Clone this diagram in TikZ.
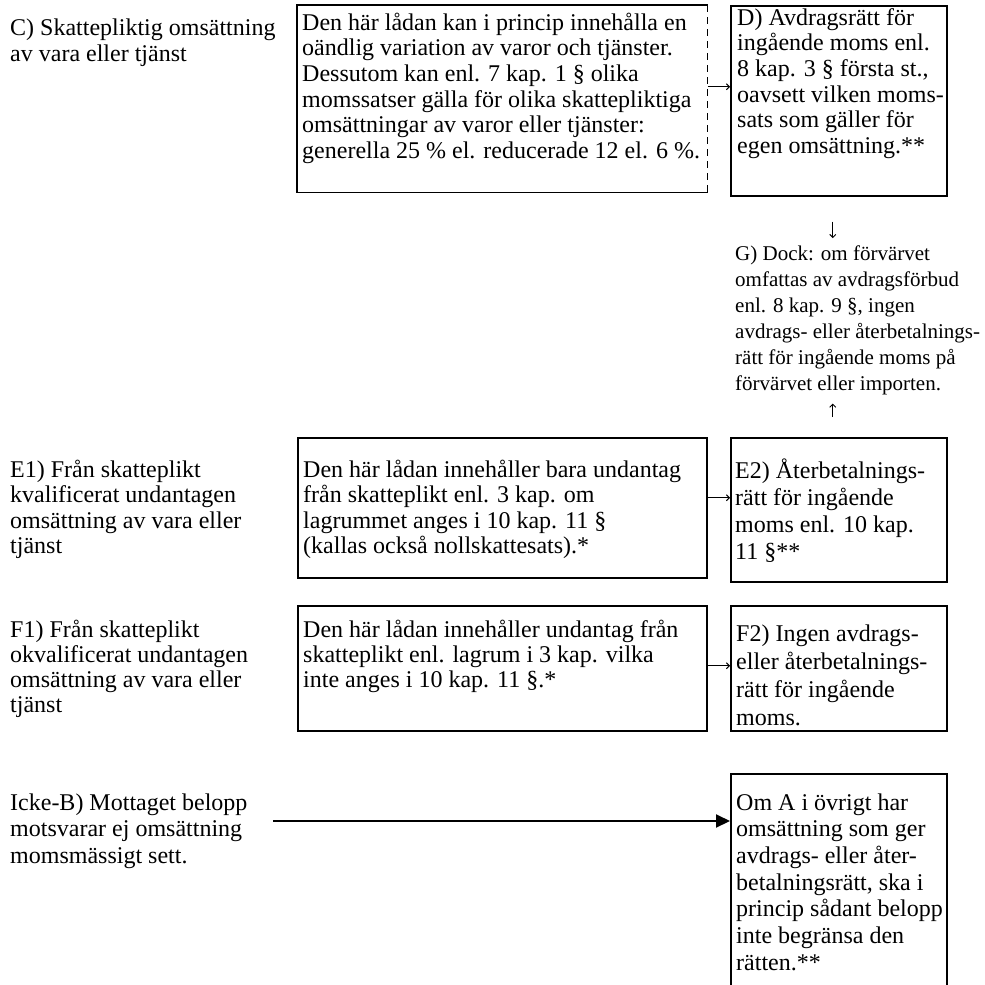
\documentclass[tikz,border=0pt]{standalone}
\usepackage{fontspec}
\setmainfont{Liberation Serif}
\usetikzlibrary{positioning, arrows.meta, calc}

\begin{document}
\begin{tikzpicture}[x=1pt, y=-1pt, font=\fontsize{24}{26}\selectfont,
    box/.style={draw, line width=1.5pt, anchor=north west, inner sep=0pt},
    txt/.style={anchor=base west, align=left, inner sep=0pt},
    small/.style={-{Straight Barb[length=3pt, width=6pt]}, line width=0.9pt},
    big/.style={-{Triangle[length=14pt, width=13pt]}, line width=2pt}]
        \useasboundingbox (0,0) rectangle (985,985);
        \node [box, draw=none, minimum width=409pt, minimum height=186pt] (rates) at (297,5) {};
        \draw [line width=1.5pt] (rates.north east) -- (rates.north west) -- (rates.south west)
        -- (rates.south east);
        \draw [line width=1.5pt, dash pattern=on 7pt off 5pt] (rates.north east) -- (rates.south east);
        \node [box, minimum width=216pt, minimum height=190pt] (deduct) at (730,5) {};
        \node [box, minimum width=409pt, minimum height=140pt] (zero) at (297,437) {};
        \node [box, minimum width=216pt, minimum height=144pt] (refund) at (730,437) {};
        \node [box, minimum width=409pt, minimum height=125pt] (exempt) at (297,605) {};
        \node [box, minimum width=216pt, minimum height=125pt] (noright) at (730,605) {};
        \node [box, minimum width=216pt, minimum height=215pt] (rest) at (730,773) {};

        \node [txt] (labelC) at (10,61) {C) Skattepliktig omsättning\\av vara eller tjänst};
        \node [txt, font=\fontsize{24}{25.6}\selectfont] (labelE) at (10,553.8)
        {E1) Från skatteplikt\\kvalificerat undantagen\\omsättning av vara eller\\tjänst};
        \node [txt, font=\fontsize{24}{25}\selectfont] (labelF) at (10,712)
        {F1) Från skatteplikt\\okvalificerat undantagen\\omsättning av vara eller\\tjänst};
        \node [txt, font=\fontsize{24}{26.7}\selectfont] (labelB) at (10,863.4)
        {Icke-B) Mottaget belopp\\motsvarar ej omsättning\\momsmässigt sett.};

        \node [txt, font=\fontsize{24}{25.7}\selectfont] (ratesT) at ([shift={(5,153.5)}]rates.north west)
        {Den här lådan kan i princip innehålla en\\oändlig variation av varor och tjänster.\\
          Dessutom kan enl. 7 kap. 1 § olika\\momssatser gälla för olika skattepliktiga\\
          omsättningar av varor eller tjänster:\\generella 25 \% el. reducerade 12 el. 6 \%.};
        \node [txt, font=\fontsize{24}{25.7}\selectfont] (deductT) at ([shift={(7,148.5)}]deduct.north west)
        {D) Avdragsrätt för\\ingående moms enl.\\8 kap. 3 § första st.,\\oavsett vilken moms-\\
          sats som gäller för\\egen omsättning.**};
        \node [txt, font=\fontsize{21}{26}\selectfont] (dock) at (735,390)
        {G) Dock: om förvärvet\\omfattas av avdragsförbud\\enl. 8 kap. 9 §, ingen\\
          avdrags- eller återbetalnings-\\rätt för ingående moms på\\förvärvet eller importen.};
        \node [txt, font=\fontsize{24}{25.6}\selectfont] (zeroT) at ([shift={(6,116.8)}]zero.north west)
        {Den här lådan innehåller bara undantag\\från skatteplikt enl. 3 kap. om\\
          lagrummet anges i 10 kap. 11 §\\(kallas också nollskattesats).*};
        \node [txt, font=\fontsize{24}{27.2}\selectfont] (refundT) at ([shift={(5,122.6)}]refund.north west)
        {E2) Återbetalnings-\\rätt för ingående\\moms enl. 10 kap.\\11 §**};
        \node [txt, font=\fontsize{24}{25}\selectfont] (exemptT) at ([shift={(6,82)}]exempt.north west)
        {Den här lådan innehåller undantag från\\skatteplikt enl. lagrum i 3 kap. vilka\\
          inte anges i 10 kap. 11 §.*};
        \node [txt, font=\fontsize{24}{28}\selectfont] (norightT) at ([shift={(6,120)}]noright.north west)
        {F2) Ingen avdrags-\\eller återbetalnings-\\rätt för ingående\\moms.};
        \node [txt, font=\fontsize{24}{26.7}\selectfont] (restT) at ([shift={(6,197.2)}]rest.north west)
        {Om A i övrigt har\\omsättning som ger\\avdrags- eller åter-\\betalningsrätt, ska i\\
          princip sådant belopp\\inte begränsa den\\rätten.**};

        \draw [small] ([yshift=12pt]rates.east) -- ([yshift=12pt]rates.east -| deduct.west);
        \draw [small] ([yshift=10pt]zero.east) -- ([yshift=10pt]zero.east -| refund.west);
        \draw [small] ([yshift=2.5pt]exempt.east) -- ([yshift=2.5pt]exempt.east -| noright.west);
        \draw [small, shorten <=25pt, shorten >=7pt] ([xshift=-6pt]deduct.south)
        -- ([xshift=-6pt]deduct.south |- dock.north);
        \draw [small, shorten <=20pt, shorten >=9pt] ([xshift=-6pt]refund.north)
        -- ([xshift=-6pt]refund.north |- dock.south);
        \coordinate (flow) at (273,821);
        \draw [big] (flow) -- (flow -| rest.west);
      \end{tikzpicture}
\end{document}
